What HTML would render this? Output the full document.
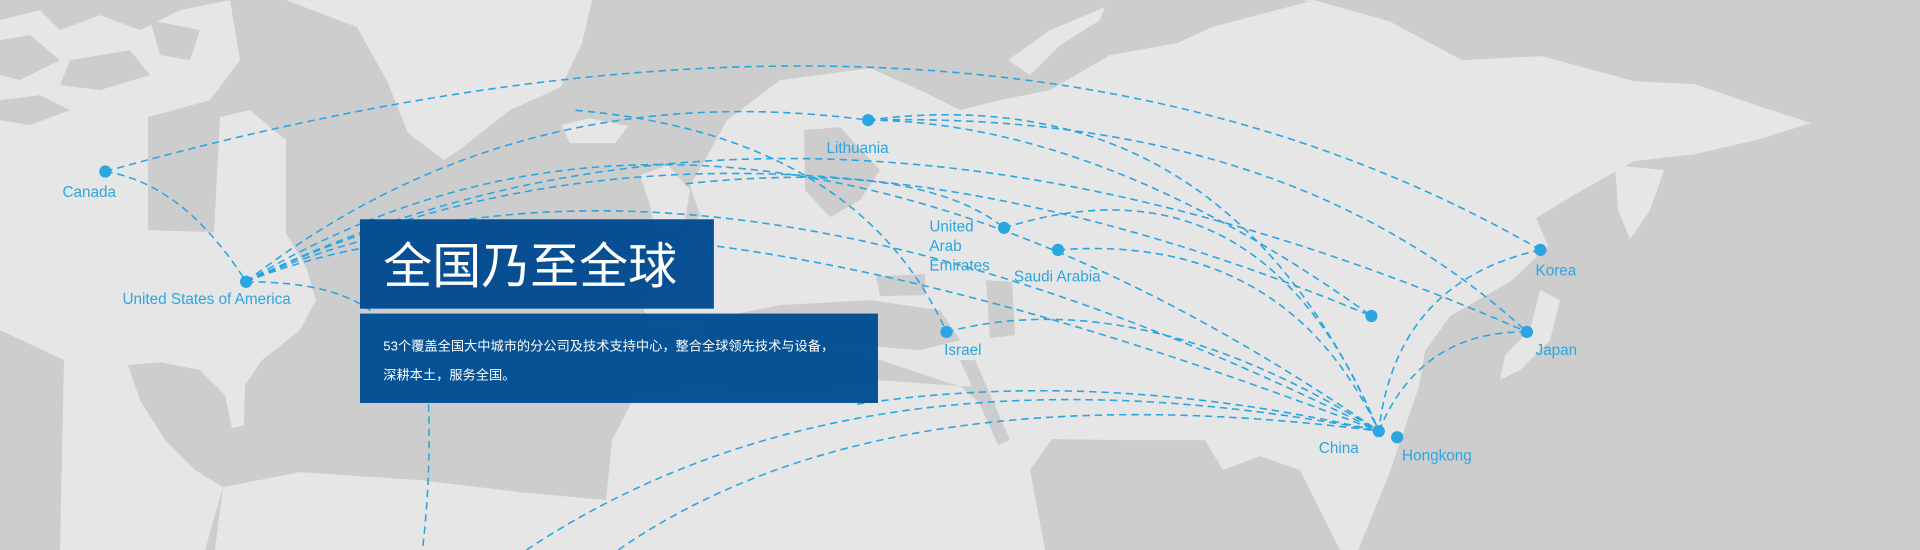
<!DOCTYPE html>
<html><head><meta charset="utf-8"><style>
html,body{margin:0;padding:0;width:1920px;height:550px;overflow:hidden;background:#cdcdcd}
svg{display:block}
</style></head><body>
<svg width="1920" height="550" viewBox="0 0 1568 449" xmlns="http://www.w3.org/2000/svg">
<rect width="1568" height="449" fill="#cdcdcd"/>
<g transform="scale(0.8167)" fill="#e6e6e6">
<!-- North America -->
<path d="M0,20 L40,10 L60,30 L100,15 L140,30 L180,10 L230,0 L240,60 L210,100 L148,117 L148,230 L214,232 L220,117 L250,110 L286,140 L286,233 L306,267 L316,300 L300,330 L262,360 L245,385 L244,425 L232,428 L225,395 L200,370 L160,362 L128,365 L140,400 L165,440 L195,470 L223,487 L205,550 L60,550 L64,360 L0,330 Z"/>
<!-- South America -->
<path d="M223,487 L300,472 L420,480 L520,492 L606,500 L612,550 L215,550 Z"/>
<!-- Greenland -->
<path d="M286,0 L592,0 L582,43 L561,87 L510,110 L459,150 L444,160 L408,133 L388,83 L357,27 Z"/>
<!-- Iceland -->
<path d="M561,125 L590,118 L628,126 L615,143 L570,143 Z"/>
<!-- UK -->
<path d="M640,175 L668,165 L690,190 L684,225 L655,230 L650,205 Z"/>
<!-- Eurasia -->
<path d="M727,120 L780,80 L870,68 L920,90 L960,110 L1000,100 L1050,90 L1110,55 L1177,43 L1212,27 L1314,0 L1303,0 L1389,21 L1462,60 L1542,56 L1634,81 L1695,84 L1756,105 L1811,123 L1756,140 L1695,154 L1634,161 L1572,196 L1536,218 L1548,246 L1511,281 L1450,316 L1425,351 L1419,386 L1401,439 L1389,474 L1358,550 L1340,550 L1300,480 L1260,456 L1223,470 L1205,440 L1130,440 L1052,439 L1030,470 L1000,430 L975,386 L960,386 L940,380 L880,360 L800,345 L704,345 L680,330 L650,325 L640,300 L655,285 L650,262 L680,245 L700,215 L690,185 L705,160 Z"/>
<path d="M1303,0 L1314,0 L1389,21 Z"/>
<!-- Novaya Zemlya -->
<path d="M1008,60 L1050,30 L1105,7 L1100,20 L1060,45 L1030,75 Z"/>
<!-- Africa -->
<path d="M638,390 L704,386 L800,392 L880,380 L960,386 L1000,420 L1030,470 L1045,550 L612,550 L606,500 L612,440 Z"/>
<!-- Kamchatka -->
<path d="M1615,165 L1664,170 L1650,210 L1630,239 L1618,210 Z"/>
<!-- Japan -->
<path d="M1540,290 L1560,300 L1550,340 L1520,370 L1500,380 L1505,355 L1530,330 Z"/>
</g>
<g fill="#cdcdcd" transform="scale(0.8167)">
<!-- arctic channels -->
<path d="M0,40 L30,35 L60,60 L20,80 L0,75 Z"/>
<path d="M70,60 L130,50 L150,75 L100,90 L60,85 Z"/>
<path d="M150,20 L200,30 L190,60 L160,55 Z"/>
<path d="M0,100 L40,95 L70,110 L30,125 L0,120 Z"/>
<!-- Baltic -->
<path d="M804,130 L840,127 L880,170 L860,200 L830,217 L805,190 Z"/>
<!-- Mediterranean -->
<path d="M704,320 L780,305 L870,300 L940,310 L960,340 L920,350 L860,345 L780,345 L710,342 Z"/>
<!-- Black sea -->
<path d="M876,276 L925,274 L925,295 L880,296 Z"/>
<!-- Caspian -->
<path d="M986,280 L1012,282 L1015,335 L990,338 Z"/>
<!-- Red sea -->
<path d="M960,360 L975,360 L1010,440 L998,445 Z"/>
<!-- Bay of Bengal -->
<path d="M1223,470 L1260,456 L1300,470 L1340,550 L1230,550 Z"/>
<!-- Arabian sea -->
<path d="M1052,450 L1130,445 L1205,450 L1200,550 L1060,550 Z"/>
</g>
<g fill="none" stroke="#2ba6e1" stroke-width="1.3" stroke-dasharray="6 4">
<path d="M86,140 Q150,150 201,230"/>
<path d="M86,140 Q800,-60 1258,204"/>
<path d="M201,230 Q420,60 709,98"/>
<path d="M201,230 Q600,-10 1126,352"/>
<path d="M201,230 Q650,10 1247,271"/>
<path d="M201,230 Q600,40 1120,258"/>
<path d="M201,230 Q560,70 1126,352"/>
<path d="M201,230 Q500,110 1126,352"/>
<path d="M201,230 Q280,230 310,260"/>
<path d="M350,330 Q352,390 345,449"/>
<path d="M470,90 Q700,110 773,271"/>
<path d="M709,98 Q1000,60 1126,352"/>
<path d="M709,98 Q1050,90 1247,271"/>
<path d="M709,98 Q900,100 1120,258"/>
<path d="M560,150 Q750,130 820,186"/>
<path d="M820,186 Q1030,120 1126,352"/>
<path d="M864,204 Q1050,190 1126,352"/>
<path d="M773,271 Q930,230 1126,352"/>
<path d="M430,449 Q700,270 1126,352"/>
<path d="M505,449 Q720,300 1126,352"/>
<path d="M700,330 Q900,300 1126,352"/>
<path d="M1258,204 Q1140,230 1126,352"/>
<path d="M1247,271 Q1160,270 1126,352"/>
</g>
<g fill="#2ba6e1">
<circle cx="86" cy="140" r="5"/><circle cx="201" cy="230" r="5"/><circle cx="709" cy="98" r="5"/>
<circle cx="820" cy="186" r="5"/><circle cx="864" cy="204" r="5"/><circle cx="773" cy="271" r="5"/>
<circle cx="1120" cy="258" r="5"/><circle cx="1258" cy="204" r="5"/><circle cx="1247" cy="271" r="5"/>
<circle cx="1126" cy="352" r="5"/><circle cx="1141" cy="357" r="5"/>
</g>
<g fill="#2ba6e1" font-family="Liberation Sans, sans-serif" font-size="12.5">
<text x="51" y="161">Canada</text>
<text x="100" y="248">United States of America</text>
<text x="675" y="125">Lithuania</text>
<text x="759" y="189">United</text><text x="759" y="205">Arab</text><text x="759" y="221">Emirates</text>
<text x="828" y="230">Saudi Arabia</text>
<text x="771" y="290">Israel</text>
<text x="1254" y="225">Korea</text>
<text x="1254" y="290">Japan</text>
<text x="1077" y="370">China</text>
<text x="1145" y="376">Hongkong</text>
</g>
<rect x="294" y="179" width="289" height="73" fill="#004a8f" fill-opacity="0.97"/>
<rect x="294" y="256" width="423" height="73" fill="#004c93" fill-opacity="0.97"/>
<text x="313" y="231" fill="#fff" font-family="Liberation Sans, Noto Sans CJK SC, sans-serif" font-size="40">全国乃至全球</text>
<g fill="#fff" font-family="Liberation Sans, Noto Sans CJK SC, sans-serif" font-size="10.8">
<text x="313" y="286">53个覆盖全国大中城市的分公司及技术支持中心，整合全球领先技术与设备，</text>
<text x="313" y="310">深耕本土，服务全国。</text>
</g>
</svg>
</body></html>
